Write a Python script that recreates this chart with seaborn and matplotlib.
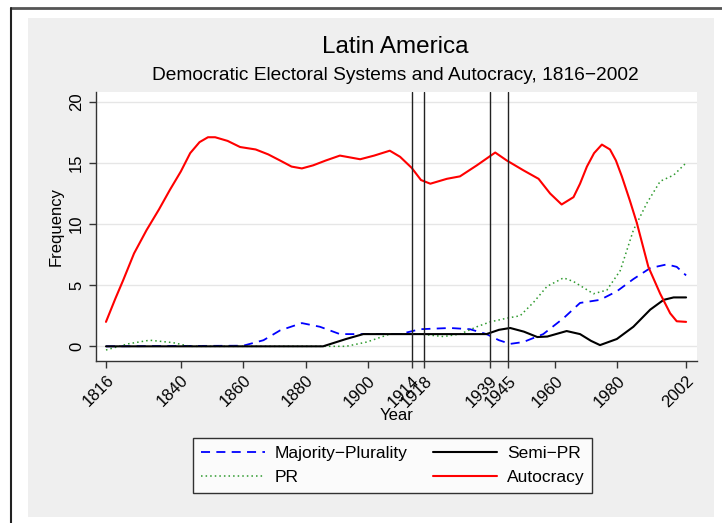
import matplotlib
matplotlib.use("Agg")
import matplotlib.pyplot as plt
import seaborn as sns
from matplotlib.patches import Rectangle
from matplotlib.lines import Line2D

# values
auto_years = [1816, 1819, 1821.5, 1825, 1829, 1833, 1836.5, 1840, 1843, 1846, 1848.7, 1851, 1855,
              1859, 1864, 1868, 1871.8, 1875.5, 1878.8, 1882.4, 1886.5, 1891, 1897.5, 1902, 1907,
              1910.3, 1914, 1917, 1920, 1925.3, 1929.5, 1934.9, 1940.8, 1944.5, 1949.8, 1954.7,
              1958.4, 1962.1, 1965.9, 1968, 1970.2, 1972.5, 1975, 1977.6, 1979.5, 1981.4, 1984,
              1986.2, 1989.9, 1993.7, 1996.9, 1999, 2002]
auto_vals = [2.0, 3.9, 5.4, 7.6, 9.5, 11.2, 12.8, 14.3, 15.8, 16.7, 17.1, 17.1, 16.8,
             16.3, 16.1, 15.7, 15.2, 14.7, 14.55, 14.8, 15.2, 15.6, 15.3, 15.6, 16.0,
             15.5, 14.6, 13.6, 13.3, 13.7, 13.9, 14.8, 15.85, 15.2, 14.4, 13.7,
             12.5, 11.6, 12.2, 13.3, 14.7, 15.8, 16.5, 16.1, 15.2, 13.9, 11.9,
             10.1, 6.5, 4.3, 2.7, 2.05, 2.0]

maj_years = [1816, 1860, 1866.5, 1871.8, 1878.8, 1884.6, 1891, 1897.5, 1910.3, 1916.7, 1926.3,
             1932.7, 1938, 1942, 1945.6, 1949.8, 1956.2, 1962.7, 1968, 1974.4, 1979.8, 1985.1,
             1990.5, 1995.8, 1999, 2002]
maj_vals = [0, 0.05, 0.5, 1.3, 1.9, 1.6, 1.0, 1.0, 1.0, 1.4, 1.5,
            1.4, 1.0, 0.5, 0.2, 0.35, 1.0, 2.3, 3.55, 3.8, 4.5, 5.5,
            6.4, 6.7, 6.5, 5.8]

semi_years = [1816, 1885.6, 1893, 1898.5, 1938, 1942, 1945.6, 1950, 1954.3, 1957.5, 1963.7, 1968,
              1971.5, 1974.4, 1979.8, 1985.1, 1990.5, 1994.8, 1998, 2002]
semi_vals = [0, 0, 0.6, 1.0, 1.0, 1.35, 1.5, 1.2, 0.76, 0.8, 1.25, 1.0,
             0.45, 0.1, 0.6, 1.6, 3.0, 3.8, 4.0, 4.0]

pr_years = [1816, 1823, 1830, 1837.5, 1843, 1893, 1899.6, 1907, 1910.3, 1916.7, 1924.2, 1929.5,
            1934.9, 1939.2, 1944.5, 1948.8, 1953.1, 1957.4, 1962.7, 1965.9, 1972.3, 1976.6,
            1980.9, 1985.1, 1989.4, 1993.7, 1998, 2002]
pr_vals = [-0.3, 0.2, 0.5, 0.3, 0.0, 0.0, 0.35, 1.0, 1.0, 1.0, 0.8, 1.0,
           1.6, 2.0, 2.3, 2.5, 3.6, 4.9, 5.6, 5.3, 4.3, 4.6,
           6.2, 9.5, 11.7, 13.5, 14.0, 15.0]

war_years = [1914, 1918, 1939, 1945]
xticks = [1816, 1840, 1860, 1880, 1900, 1914, 1918, 1939, 1945, 1960, 1980, 2002]
yticks = [0, 5, 10, 15, 20]

sns.set_style("white")
plt.rcParams['font.family'] = ['Liberation Sans', 'DejaVu Sans']
plt.rcParams['text.color'] = 'black'
plt.rcParams['axes.labelcolor'] = 'black'
plt.rcParams['xtick.color'] = 'black'
plt.rcParams['ytick.color'] = 'black'

fig = plt.figure(figsize=(7.22, 5.23), dpi=100, facecolor='white')
# grey plot region + outer frame lines
fig.patches.append(Rectangle((28 / 722, 1 - 517 / 523), (714 - 28) / 722, (517 - 18) / 523,
                             transform=fig.transFigure, facecolor='#efefef', edgecolor='none', zorder=-5))
fig.lines.append(Line2D([10.5 / 722, 1], [1 - 7.5 / 523, 1 - 7.5 / 523], transform=fig.transFigure,
                        color='#555555', lw=2))
fig.lines.append(Line2D([10.5 / 722, 10.5 / 722], [0, 1 - 7.5 / 523], transform=fig.transFigure,
                        color='#222222', lw=1.5))

ax = fig.add_axes([96 / 722, 1 - 361 / 523, (697 - 96) / 722, (361 - 92) / 523])
ax.set_zorder(3)
ax.set_facecolor('white')

sns.lineplot(x=maj_years, y=maj_vals, ax=ax, color='blue', lw=1.3, linestyle=(0, (5, 3.5)), label='Majority\u2212Plurality')
sns.lineplot(x=pr_years, y=pr_vals, ax=ax, color='#2e9a2e', lw=1.1, linestyle=(0, (1, 2)), label='PR')
sns.lineplot(x=semi_years, y=semi_vals, ax=ax, color='black', lw=1.5, label='Semi\u2212PR')
sns.lineplot(x=auto_years, y=auto_vals, ax=ax, color='red', lw=1.5, label='Autocracy')

for yr in war_years:
    ax.axvline(yr, color='#222222', lw=1)

ax.set_xlim(1812.8, 2005.5)
ax.set_ylim(-1.2, 20.8)
ax.set_xticks(xticks)
ax.set_xticklabels([str(t) for t in xticks], rotation=45, ha='right', rotation_mode='anchor', fontsize=12)
ax.set_yticks(yticks)
ax.set_yticklabels([str(t) for t in yticks], rotation=90, va='center', fontsize=12)
ax.yaxis.grid(True, color='#e6e6e6', lw=1)
ax.tick_params(axis='both', direction='out', length=5, width=1, color='#333333', left=True, bottom=True)
for s in ['top', 'right']:
    ax.spines[s].set_visible(False)
for s in ['left', 'bottom']:
    ax.spines[s].set_color('#333333')
    ax.spines[s].set_linewidth(1)
ax.set_xlabel('Year', fontsize=12, labelpad=-1.5)
ax.set_ylabel('Frequency', fontsize=12, labelpad=4)

fig.text(395 / 722, 1 - 47 / 523, 'Latin America', ha='center', va='center', fontsize=17.5)
fig.text(395 / 722, 1 - 76 / 523, 'Democratic Electoral Systems and Autocracy, 1816\u22122002',
         ha='center', va='center', fontsize=13.8)

handles, labels = ax.get_legend_handles_labels()
ax.get_legend().remove()
leg = fig.legend(handles, labels, ncol=2, loc='center', bbox_to_anchor=(392.5 / 722, 1 - 465.5 / 523),
                 frameon=True, fancybox=False, fontsize=12.5, handlelength=3.7, columnspacing=1.45,
                 borderpad=0.45, labelspacing=0.5, handletextpad=0.57)
leg.get_frame().set_edgecolor('black')
leg.get_frame().set_linewidth(1)
leg.get_frame().set_facecolor('white')

fig.savefig('out.png', dpi=100, facecolor='white')
